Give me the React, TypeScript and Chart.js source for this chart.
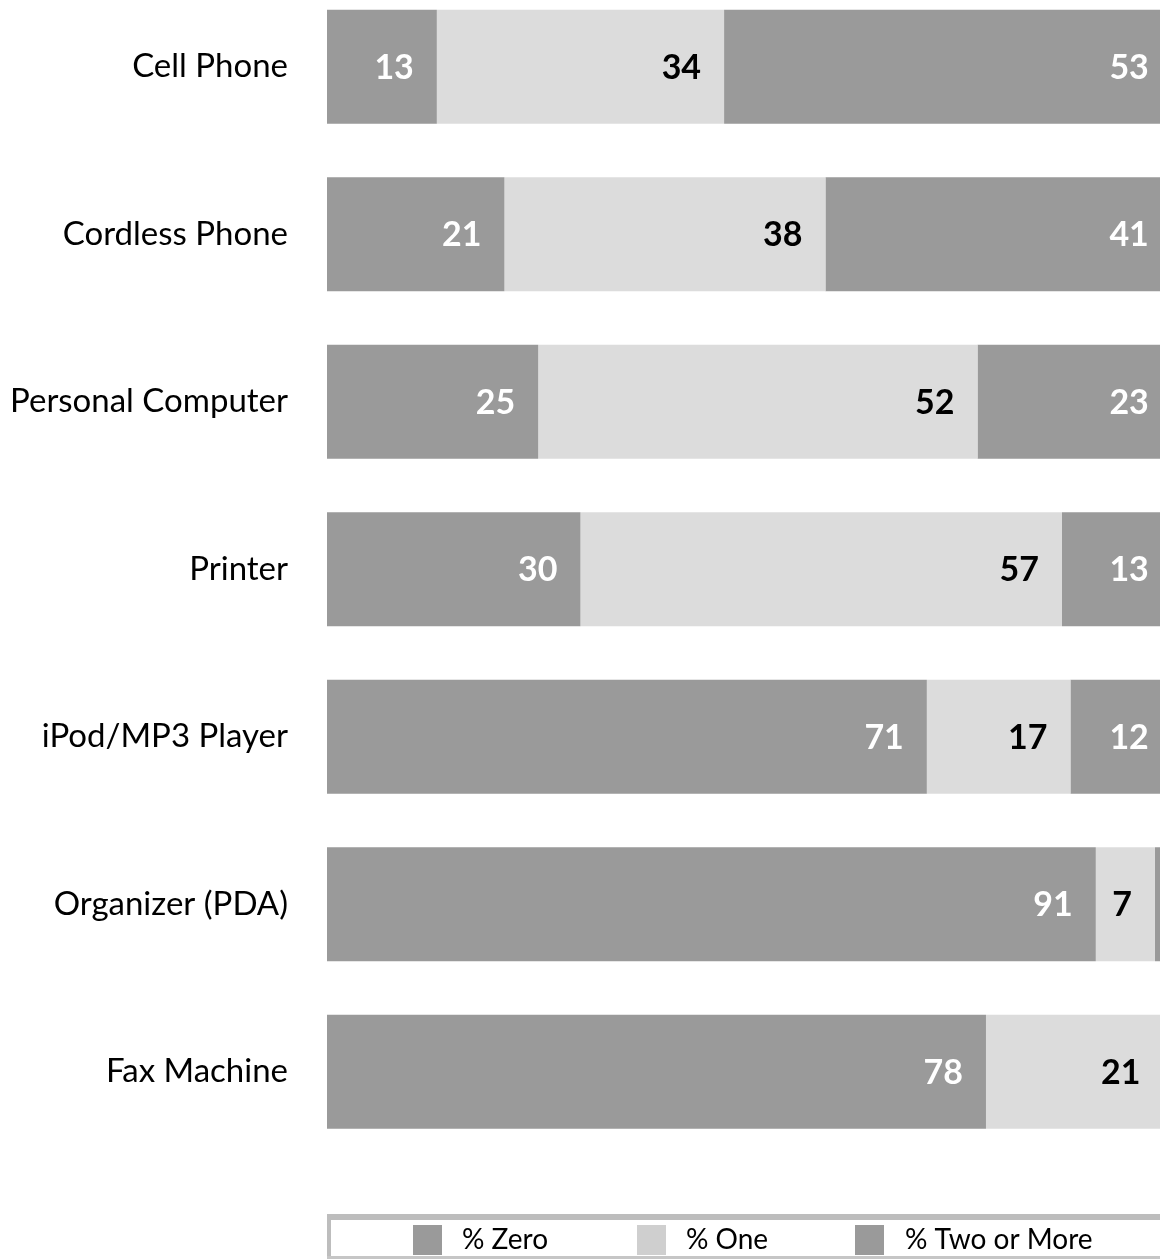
import React, { useEffect, useRef } from "react";
import { Chart, registerables } from "chart.js";

Chart.register(...registerables);

const categories = [
  "Cell Phone",
  "Cordless Phone",
  "Personal Computer",
  "Printer",
  "iPod/MP3 Player",
  "Organizer (PDA)",
  "Fax Machine",
];
const zeroValues = [13, 21, 25, 30, 71, 91, 78];
const oneValues = [34, 38, 52, 57, 17, 7, 21];
const twoOrMoreValues = [53, 41, 23, 13, 12, 2, 1];
const seriesNames = ["% Zero", "% One", "% Two or More"];

const DARK = "#9a9a9a";
const LIGHT = "#dcdcdc";
const FONT = "Lato, 'Open Sans', sans-serif";

const CANVAS_W = 1160;
const CANVAS_H = 1300;
const SHIFT = 17;

const valueLabels = {
  id: "valueLabels",
  afterDatasetsDraw(chart: any) {
    const ctx = chart.ctx;
    ctx.save();
    ctx.font = `bold 34px ${FONT}`;
    ctx.textAlign = "right";
    ctx.textBaseline = "middle";
    chart.data.datasets.forEach((ds: any, i: number) => {
      const meta = chart.getDatasetMeta(i);
      meta.data.forEach((bar: any, j: number) => {
        const v = ds.data[j];
        if (v < 5) return;
        ctx.fillStyle = i === 1 ? "#000000" : "#ffffff";
        ctx.fillText(String(v), bar.x - 23, bar.y + 1);
      });
    });
    ctx.restore();
  },
};

const boxLegend = {
  id: "boxLegend",
  afterDraw(chart: any) {
    const ctx = chart.ctx;
    const top = 1214 + SHIFT;
    ctx.save();
    ctx.fillStyle = "#ffffff";
    ctx.fillRect(327, top, 900, 45);
    ctx.fillStyle = "#bdbdbd";
    ctx.fillRect(327, top, 900, 6);
    ctx.fillRect(327, top, 4, 45);
    ctx.fillStyle = "#c6c6c6";
    ctx.fillRect(327, top + 42, 900, 3);
    const swX = [413, 637, 855];
    const txX = [462, 686, 905];
    const cols = [DARK, LIGHT, DARK];
    ctx.font = `28px ${FONT}`;
    ctx.textAlign = "left";
    ctx.textBaseline = "middle";
    for (let i = 0; i < 3; i++) {
      ctx.fillStyle = i === 1 ? "#cfcfcf" : cols[i];
      ctx.fillRect(swX[i], top + 11, 29, 30);
      ctx.fillStyle = "#000000";
      ctx.fillText(seriesNames[i], txX[i], top + 26);
    }
    ctx.restore();
  },
};

export default function App() {
  const ref = useRef<HTMLCanvasElement | null>(null);

  useEffect(() => {
    if (!ref.current) return;
    const chart = new Chart(ref.current, {
      type: "bar",
      data: {
        labels: categories,
        datasets: [
          { label: seriesNames[0], data: zeroValues, backgroundColor: DARK },
          { label: seriesNames[1], data: oneValues, backgroundColor: LIGHT },
          { label: seriesNames[2], data: twoOrMoreValues, backgroundColor: DARK },
        ],
      },
      options: {
        indexAxis: "y",
        animation: false,
        responsive: false,
        devicePixelRatio: 1,
        layout: { padding: { top: 0, left: 0, right: 0, bottom: CANVAS_H - 1172.5 } },
        datasets: {
          bar: { categoryPercentage: 1, barPercentage: 0.68, borderWidth: 0 },
        },
        scales: {
          x: { stacked: true, display: false, min: 0, max: 98.6 },
          y: {
            stacked: true,
            grid: { display: false, drawTicks: false },
            border: { display: false },
            ticks: {
              padding: 39,
              color: "#000000",
              font: { family: FONT, size: 33 },
            },
            afterFit(scale: any) {
              scale.width = 327;
              scale.paddingTop = 0;
              scale.paddingBottom = 0;
            },
          },
        },
        plugins: {
          legend: { display: false },
          tooltip: { enabled: false },
        },
      },
      plugins: [valueLabels, boxLegend],
    });
    return () => chart.destroy();
  }, []);

  return (
    <div
      style={{
        position: "absolute",
        left: 0,
        top: 0,
        width: CANVAS_W,
        height: 1260,
        overflow: "hidden",
        background: "#ffffff",
      }}
    >
      <canvas
        ref={ref}
        width={CANVAS_W}
        height={CANVAS_H}
        style={{ position: "absolute", left: 0, top: -SHIFT, width: CANVAS_W, height: CANVAS_H }}
      />
    </div>
  );
}
